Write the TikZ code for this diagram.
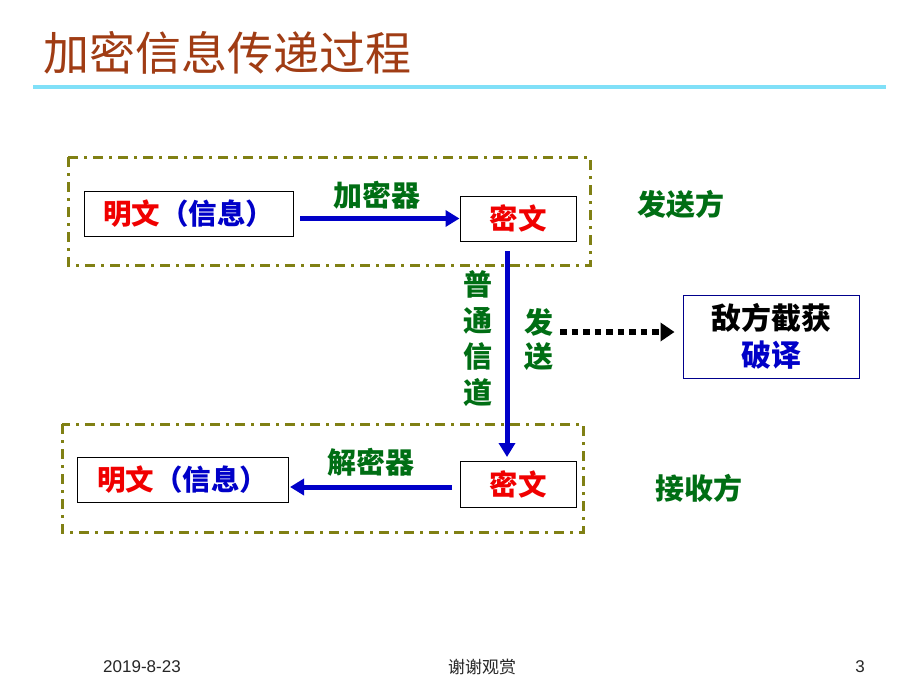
\documentclass[tikz,border=0pt]{standalone}
\usepackage{fontspec}
\setmainfont{Liberation Sans}
\newfontfamily\cjk{Noto Sans CJK SC}
\usetikzlibrary{arrows.meta,calc}
\definecolor{titlebrown}{RGB}{160,60,20}
\definecolor{rulecyan}{RGB}{128,224,248}
\definecolor{olivedash}{RGB}{128,128,20}
\definecolor{darkgreen}{RGB}{0,110,20}
\definecolor{myblue}{RGB}{0,0,200}
\definecolor{myred}{RGB}{240,0,0}
\tikzset{
  txtbox/.style={draw=black, line width=1pt, inner sep=0pt, font=\cjk\bfseries\fontsize{28.5}{32}\selectfont},
  groupbox/.style={draw=olivedash, line width=3pt, dash pattern=on 10pt off 6pt on 3pt off 6pt},
  bluearrow/.style={draw=myblue, line width=5pt, -{Triangle[length=14pt,width=16pt]}},
  greenlbl/.style={text=darkgreen, font=\cjk\bfseries\fontsize{29}{32}\selectfont, inner sep=0pt},
  footer/.style={font=\fontsize{17}{19}\selectfont, text=black!85, inner sep=0pt}
}
\begin{document}
\begin{tikzpicture}[x=1pt,y=-1pt]
\useasboundingbox[fill=white] (0,0) rectangle (920,690);
% title
\node[anchor=west, text=titlebrown, inner sep=0pt, font=\cjk\fontsize{46}{50}\selectfont] (title) at (43,53) {加密信息传递过程};
\draw[rulecyan, line width=4pt] (33,87) coordinate (r1) -- (886,87) coordinate (r2);
% group boxes
\draw[groupbox] (68,157) rectangle (590,265);
\draw[groupbox] (62,424) rectangle (583,532);
% top row
\node[txtbox, minimum width=209pt, minimum height=45pt] (m1) at (188.5,213.5) {\textcolor{myred}{明文}\textcolor{myblue}{（信息）}};
\node[txtbox, minimum width=116pt, minimum height=45pt, text=myred] (c1) at (518,218.5) {密文};
\coordinate (a1s) at (300,218.5);
\draw[bluearrow] (a1s) -- (c1.west);
\node[greenlbl] (l1) at (377,195) {加密器};
\node[greenlbl] (send) at (681,204) {发送方};
% vertical channel
\node[txtbox, minimum width=116pt, minimum height=46pt, text=myred] (c2) at (518,484) {密文};
\coordinate (vs) at (507,251);
\coordinate (ve) at (507,457);
\draw[bluearrow] (vs) -- (ve);
\node[greenlbl, align=center, font=\cjk\bfseries\fontsize{29}{36}\selectfont] (ch) at (478,339) {普\\通\\信\\道};
\node[greenlbl, align=center, font=\cjk\bfseries\fontsize{29}{34}\selectfont] (fs) at (539,340) {发\\送};
% enemy
\node[draw=myblue!70!black, line width=1pt, minimum width=176pt, minimum height=83pt, inner sep=0pt, align=center, font=\cjk\bfseries\fontsize{30}{37}\selectfont] (enemy) at (771,336.5) {\textcolor{black}{敌方截获}\\\textcolor{myblue}{破译}};
\coordinate (ds) at (560,332);
\draw[black, line width=6pt, dash pattern=on 6.5pt off 5pt, -{Triangle[length=14pt,width=18pt]}] (ds) -- ($(enemy.west)+(-8,-4.5)$) coordinate (de);
% bottom row
\node[txtbox, minimum width=211pt, minimum height=45pt] (m2) at (182.5,479.5) {\textcolor{myred}{明文}\textcolor{myblue}{（信息）}};
\coordinate (a2s) at (452,487);
\coordinate (a2e) at (290,487);
\draw[bluearrow] (a2s) -- (a2e);
\node[greenlbl] (l2) at (371,462) {解密器};
\node[greenlbl] (recv) at (699,488) {接收方};
% footer
\node[footer] (date) at (142,667) {2019-8-23};
\node[footer, font=\cjk\fontsize{17}{19}\selectfont] (thanks) at (482,667) {谢谢观赏};
\node[footer] (page) at (860,667) {3};
\end{tikzpicture}
\end{document}
